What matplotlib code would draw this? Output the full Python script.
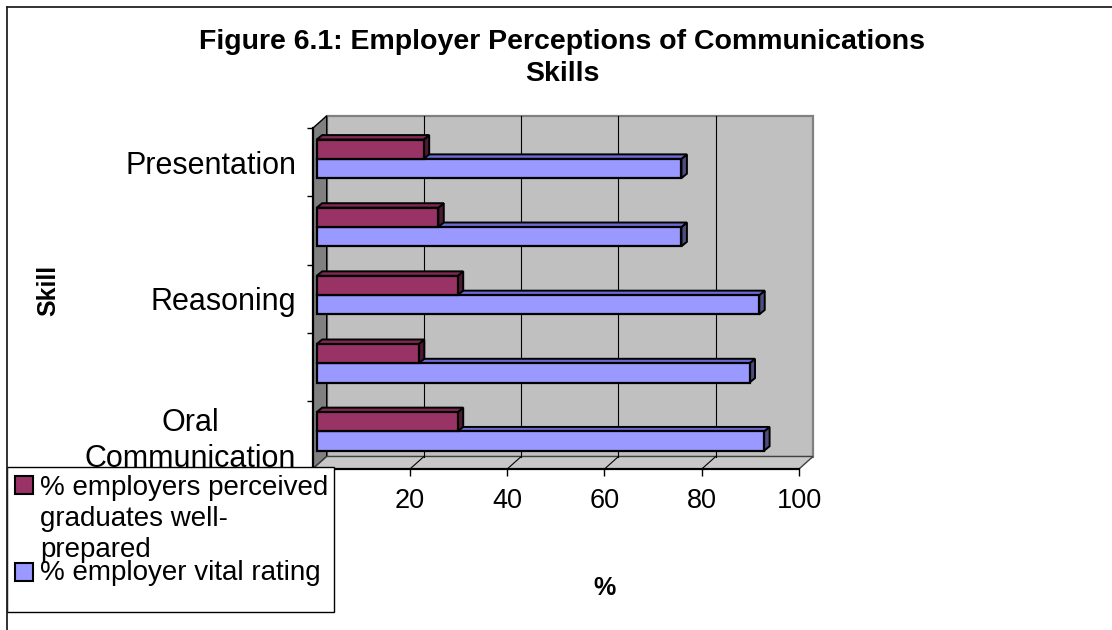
import matplotlib.pyplot as plt
from matplotlib.patches import Polygon, Rectangle

plt.rcParams['font.family'] = ['Liberation Sans', 'DejaVu Sans']

# data (bottom to top)
skills = ['Oral\nCommunication', '', 'Reasoning', '', 'Presentation']
prepared = [29, 21, 29, 25, 22]
vital = [92, 89, 91, 75, 75]
xticks = [0, 20, 40, 60, 80, 100]
xticklabels = ['', '20', '40', '60', '80', '100']   # the 0 sits under the legend
series = ['% employers perceived\ngraduates well-\nprepared', '% employer vital rating']
title = 'Figure 6.1: Employer Perceptions of Communications\nSkills'

red, red_top, red_side = '#993366', '#7d2952', '#4d1a33'
blue, blue_top, blue_side = '#9999FF', '#6b6bd6', '#4d4d80'

W, H = 1112, 630
fig = plt.figure(figsize=(W / 100, H / 100), dpi=100)

# front plane of the 3d box, pixels from top-left
x0, x1, ytop, ybot = 312.7, 799.0, 128.3, 469.0
n = len(skills)
ax = fig.add_axes([x0 / W, 1 - ybot / H, (x1 - x0) / W, (ybot - ytop) / H])
ax.set_xlim(0, 100)
ax.set_ylim(-0.5, n - 0.5)
kx = 100 / (x1 - x0)
ky = n / (ybot - ytop)

# depth of the box and of the bars
dx, dy = 14 * kx, 12.5 * ky
bx, by = 4 * kx, 3.5 * ky        # bar front face offset
ddx, ddy = 5.5 * kx, 4.5 * ky    # bar depth
bh = 19.3 * ky

lo, hi = -0.5, n - 0.5
ax.add_patch(Polygon([(dx, lo + dy), (100 + dx, lo + dy), (100 + dx, hi + dy), (dx, hi + dy)],
                     fc='#C0C0C0', ec='#808080', lw=1.6, clip_on=False, zorder=0))
ax.add_patch(Polygon([(0, lo), (dx, lo + dy), (dx, hi + dy), (0, hi)],
                     fc='#808080', ec='black', lw=1.0, clip_on=False, zorder=0.5))
ax.add_patch(Polygon([(0, lo), (100, lo), (100 + dx, lo + dy), (dx, lo + dy)],
                     fc='#C8C8C8', ec='#404040', lw=1.0, clip_on=False, zorder=0.5))
for g in range(20, 100, 20):
    ax.plot([g + dx, g + dx], [lo + dy, hi + dy], color='black', lw=0.8, zorder=0.6, clip_on=False)
    ax.plot([g, g + dx], [lo, lo + dy], color='black', lw=0.8, zorder=0.6, clip_on=False)


def box(y, w, face, top, side):
    xs = bx
    ax.add_patch(Polygon([(xs + w, y), (xs + w + ddx, y + ddy), (xs + w + ddx, y + bh + ddy), (xs + w, y + bh)],
                         fc=side, ec='black', lw=1.4, clip_on=False, zorder=3))
    ax.add_patch(Polygon([(xs, y + bh), (xs + w, y + bh), (xs + w + ddx, y + bh + ddy), (xs + ddx, y + bh + ddy)],
                         fc=top, ec='black', lw=1.4, clip_on=False, zorder=3))
    ax.add_patch(Rectangle((xs, y), w, bh, fc=face, ec='black', lw=1.6, clip_on=False, zorder=3))


for i in range(n - 1, -1, -1):
    c = i + by
    box(c - bh, vital[i], blue, blue_top, blue_side)
    box(c, prepared[i], red, red_top, red_side)

for s in ['top', 'right']:
    ax.spines[s].set_visible(False)
ax.spines['left'].set_linewidth(1.6)
ax.spines['bottom'].set_linewidth(1.6)
ax.spines['left'].set_zorder(1)
ax.spines['bottom'].set_zorder(1)
ax.patch.set_visible(False)

ax.set_xticks(xticks)
ax.set_xticklabels(xticklabels)
ax.tick_params(axis='x', direction='out', length=5, width=1, pad=9, labelsize=19.5)
ax.set_yticks(range(n))
ax.set_yticklabels(skills, fontsize=22)
for lab in ax.get_yticklabels():
    lab.set_multialignment('center')
    lab.set_linespacing(1.25)
ax.tick_params(axis='y', which='major', length=0, pad=12)
ax.set_yticks([k - 0.5 for k in range(n + 1)], minor=True)
ax.tick_params(axis='y', which='minor', direction='out', length=4.5, width=1)

# overlay in pixel coordinates for title, labels, legend and frame
ov = fig.add_axes([0, 0, 1, 1], zorder=5)
ov.set_xlim(0, W)
ov.set_ylim(H, 0)
ov.axis('off')

ov.plot([7, W], [7, 7], color='#222222', lw=1.3)
ov.plot([7, 7], [7, H], color='#222222', lw=1.3)

ov.text(562, 81, title, ha='center', va='baseline', fontsize=20.5,
        fontweight='bold', linespacing=1.28)
ov.text(48, 290, 'Skill', rotation=90, ha='center', va='center', fontsize=18, fontweight='bold')
ov.text(605, 588, '%', ha='center', va='center', fontsize=18, fontweight='bold')

ov.add_patch(Rectangle((7, 467), 327, 145, fc='white', ec='black', lw=1.0))
ov.add_patch(Rectangle((15, 476), 18, 18, fc=red, ec='black', lw=1.5))
ov.add_patch(Rectangle((15, 563), 18, 18, fc=blue, ec='black', lw=1.5))
for k, line in enumerate(series[0].split('\n')):
    ov.text(40, 495 + 31 * k, line, ha='left', va='baseline', fontsize=20)
ov.text(40, 580, series[1], ha='left', va='baseline', fontsize=20)

fig.savefig('out.png', dpi=100)
